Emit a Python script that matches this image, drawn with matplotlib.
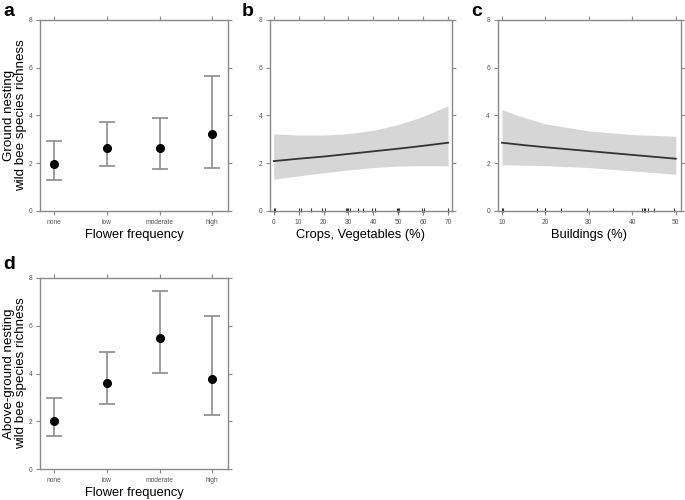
import matplotlib
matplotlib.use("Agg")
import matplotlib.pyplot as plt
import numpy as np

plt.rcParams['font.family'] = ['Liberation Sans', 'DejaVu Sans']

categories = ["none", "low", "moderate", "high"]
ground_mean = [1.95, 2.65, 2.65, 3.22]
ground_low = [1.29, 1.88, 1.78, 1.82]
ground_high = [2.93, 3.73, 3.89, 5.67]

above_mean = [2.02, 3.62, 5.47, 3.79]
above_low = [1.39, 2.71, 4.01, 2.27]
above_high = [2.96, 4.90, 7.45, 6.40]

crops_x = [0, 10, 20, 30, 40, 50, 60, 70]
crops_fit = [2.09, 2.19, 2.28, 2.39, 2.50, 2.61, 2.73, 2.86]
crops_upper = [3.23, 3.18, 3.18, 3.24, 3.38, 3.62, 3.96, 4.41]
crops_lower = [1.33, 1.47, 1.60, 1.72, 1.82, 1.88, 1.90, 1.89]
crops_rug = [0, 0.5, 10, 11, 15, 19.5, 20.5, 29, 29.5, 30, 30.5, 34, 36,
             39.5, 40.5, 49.5, 50, 50.5, 59.5, 60.5, 70]

build_x = [10, 15, 20, 30, 40, 50]
build_fit = [2.86, 2.76, 2.67, 2.51, 2.35, 2.19]
build_upper = [4.24, 3.92, 3.65, 3.35, 3.20, 3.13]
build_lower = [1.94, 1.92, 1.90, 1.82, 1.68, 1.54]
build_rug = [10, 10.3, 18, 19.8, 20, 23.5, 29.5, 35.5, 42.3, 42.6, 43, 43.5, 45, 49.5]

W, H = 685, 500
fig = plt.figure(figsize=(W / 100, H / 100), dpi=100)

frame_col = '#8a8a8a'
tick_col = '#555555'


def make_ax(l, t, r, b):
    ax = fig.add_axes([l / W, 1 - b / H, (r - l) / W, (b - t) / H])
    for s in ax.spines.values():
        s.set_color(frame_col)
        s.set_linewidth(1.0)
    ax.tick_params(direction='out', length=3, width=0.8, colors=frame_col,
                   labelsize=4.8, labelcolor=tick_col, top=True, right=True,
                   pad=2.5)
    ax.set_ylim(0, 8)
    ax.set_yticks([0, 2, 4, 6, 8])
    return ax


def cat_panel(ax, mean, lo, hi, ylabel):
    x = np.arange(1, len(categories) + 1)
    yerr = [np.array(mean) - np.array(lo), np.array(hi) - np.array(mean)]
    ax.errorbar(x, mean, yerr=yerr, fmt='o', color='black', ms=5.5,
                ecolor='#8c8c8c', elinewidth=1.2, capsize=6, capthick=1.2)
    ax.set_xlim(0.73, 4.3)
    ax.set_xticks(x)
    ax.set_xticklabels(categories)
    ax.set_xlabel("Flower frequency", fontsize=9.3, labelpad=2.5)
    ax.set_ylabel(ylabel, fontsize=9.6, linespacing=1.0)
    ax.yaxis.set_label_coords(-0.07, 0.5)


def fit_panel(ax, x, fit, lo, hi, rug, xlim, xticks, xlabel):
    ax.fill_between(x, lo, hi, color='#d6d6d6', lw=0)
    ax.plot(x, fit, color='#333333', lw=1.3)
    ax.vlines(rug, -0.06, 0.12, color='#333333', lw=0.8, clip_on=False)
    ax.set_xlim(*xlim)
    ax.set_xticks(xticks)
    ax.set_xlabel(xlabel, fontsize=9.3, labelpad=2.5)


axa = make_ax(40, 20, 228, 211)
cat_panel(axa, ground_mean, ground_low, ground_high,
          "Ground nesting\nwild bee species richness")

axb = make_ax(270, 20, 452, 211)
fit_panel(axb, crops_x, crops_fit, crops_lower, crops_upper, crops_rug,
          (-1.5, 71.6), [0, 10, 20, 30, 40, 50, 60, 70], "Crops, Vegetables (%)")

axc = make_ax(497.7, 20, 681, 211)
fit_panel(axc, build_x, build_fit, build_lower, build_upper, build_rug,
          (9.0, 51.2), [10, 20, 30, 40, 50], "Buildings (%)")

axd = make_ax(40, 278, 228, 469)
cat_panel(axd, above_mean, above_low, above_high,
          "Above-ground nesting\nwild bee species richness")

for lab, x, y in [("a", 3, 3), ("b", 242, 3), ("c", 471, 3), ("d", 3, 256)]:
    fig.text(x / W, 1 - y / H, lab, fontsize=14, fontweight='bold',
             ha='left', va='top')

fig.savefig("out.png", dpi=100)
